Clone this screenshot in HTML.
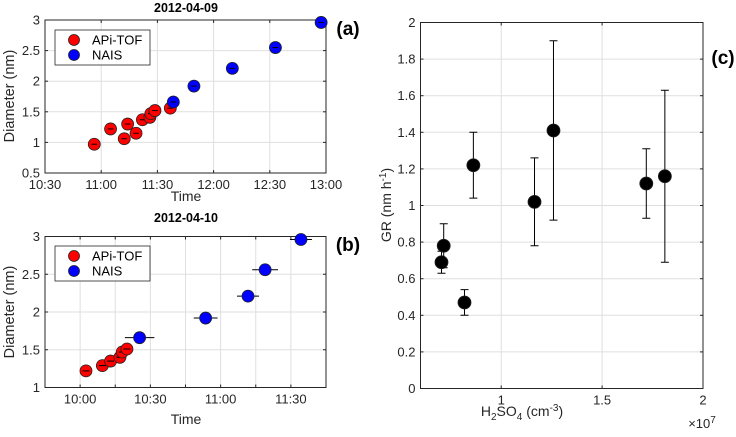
<!DOCTYPE html>
<html><head><meta charset="utf-8"><style>
body{margin:0;background:#fff;}
svg text{font-family:"Liberation Sans",Arial,sans-serif;}
</style></head><body>
<svg id="fig" width="736" height="432" viewBox="0 0 736 432" xmlns="http://www.w3.org/2000/svg"></svg>
<script>
// Panel (a) data: minutes after midnight, diameter (nm)
const aApiT = [656.3, 665, 672.3, 674.1, 678.6, 682, 686, 686.5, 688.7, 696.9];
const aApiD = [0.97, 1.22, 1.06, 1.30, 1.15, 1.37, 1.41, 1.47, 1.52, 1.56];
const aNaisT = [698.5, 709.5, 730, 753, 777.4];
const aNaisD = [1.66, 1.92, 2.21, 2.55, 2.96];
const aXTicks = [630, 660, 690, 720, 750, 780];
const aXLabels = ["10:30","11:00","11:30","12:00","12:30","13:00"];
const aYTicks = [0.5, 1, 1.5, 2, 2.5, 3];
// Panel (b) data
const bApiT = [602.5, 609.5, 613, 617, 618, 620];
const bApiD = [1.22, 1.29, 1.35, 1.40, 1.47, 1.51];
const bNaisT = [625.4, 653.6, 671.7, 679, 694.3];
const bNaisD = [1.66, 1.92, 2.21, 2.56, 2.96];
const bNaisErr = [6.3, 5.1, 4.7, 5.5, 4.7];
const bXTicks = [600, 630, 660, 690];
const bXLabels = ["10:00","10:30","11:00","11:30"];
const bYTicks = [1, 1.5, 2, 2.5, 3];
// Panel (c) data: H2SO4 (x1e7), GR, lower, upper
const cX = [0.704, 0.715, 0.818, 0.862, 1.165, 1.259, 1.719, 1.811];
const cGR = [0.69, 0.78, 0.47, 1.22, 1.02, 1.41, 1.12, 1.16];
const cLo = [0.63, 0.66, 0.40, 1.04, 0.78, 0.92, 0.93, 0.69];
const cHi = [0.75, 0.90, 0.54, 1.40, 1.26, 1.90, 1.31, 1.63];
const cXTicks = [1, 1.5, 2];
const cYTicks = [0,0.2,0.4,0.6,0.8,1,1.2,1.4,1.6,1.8,2];

const svg = document.getElementById('fig');
const NS = 'http://www.w3.org/2000/svg';
function mk(tag, attrs, parent){
  const e = document.createElementNS(NS, tag);
  for (const k in attrs) e.setAttribute(k, attrs[k]);
  (parent||svg).appendChild(e);
  return e;
}
function txt(s, x, y, opts, parent){
  const t = mk('text', Object.assign({x:x, y:y, 'font-size':13, fill:'#262626', 'text-anchor':'middle'}, opts||{}), parent);
  t.textContent = s;
  return t;
}
function lin(d0,d1,r0,r1){ return v => r0 + (v-d0)/(d1-d0)*(r1-r0); }

function panel(name, box, xd, yd, xGrid, xTicks, xLabels, yTicks, yLabels){
  const g = mk('g', {});
  
  
  const X = lin(xd[0], xd[1], box.x0, box.x1);
  const Y = lin(yd[0], yd[1], box.y1, box.y0);
  mk('rect', {x:box.x0, y:box.y0, width:box.x1-box.x0, height:box.y1-box.y0, fill:'#fff'}, g);
  xGrid.forEach(v => { const l = mk('line', {x1:X(v), x2:X(v), y1:box.y0, y2:box.y1, stroke:'#dfdfdf', 'stroke-width':1}, g);
      });
  yTicks.forEach(v => { const l = mk('line', {x1:box.x0, x2:box.x1, y1:Y(v), y2:Y(v), stroke:'#dfdfdf', 'stroke-width':1}, g);
      });
  const fr = mk('rect', {x:box.x0, y:box.y0, width:box.x1-box.x0, height:box.y1-box.y0, fill:'none', stroke:'#262626', 'stroke-width':1}, g);
   
  xGrid.forEach(v => { mk('line', {x1:X(v), x2:X(v), y1:box.y1, y2:box.y1-3, stroke:'#262626'}, g); mk('line', {x1:X(v), x2:X(v), y1:box.y0, y2:box.y0+3, stroke:'#262626'}, g); });
  yTicks.forEach(v => { mk('line', {x1:box.x0, x2:box.x0+3, y1:Y(v), y2:Y(v), stroke:'#262626'}, g); mk('line', {x1:box.x1, x2:box.x1-3, y1:Y(v), y2:Y(v), stroke:'#262626'}, g); });
  xTicks.forEach((v,i) => { const t = txt(xLabels[i], X(v), box.y1+16, {}, g);
      });
  yTicks.forEach((v,i) => { const t = txt(yLabels[i], box.x0-5, Y(v)+4.5, {'text-anchor':'end'}, g);
      });
  return {g, X, Y};
}
function dot(p, x, y, r, fill, name){
  const c = mk('circle', {cx:p.X(x), cy:p.Y(y), r:r, fill:fill, stroke:'#222', 'stroke-width':0.8}, p.g);
  
  
  return c;
}
function hbar(p, x, y, e){
  const l = mk('line', {x1:p.X(x-e), x2:p.X(x+e), y1:p.Y(y), y2:p.Y(y), stroke:'#000', 'stroke-width':1}, p.g);
  
  
}
function legend(x, y){
  const g = mk('g', {});
  
  
  mk('rect', {x:x, y:y, width:95, height:35, fill:'#fff', stroke:'#262626', 'stroke-width':0.8}, g);
  mk('circle', {cx:x+19, cy:y+10, r:5.5, fill:'#f00', stroke:'#222', 'stroke-width':0.8}, g);
  const t1 = txt('APi-TOF', x+37, y+14.5, {'text-anchor':'start', 'font-size':13, fill:'#000'}, g);
   
  mk('circle', {cx:x+19, cy:y+25, r:5.5, fill:'#00f', stroke:'#222', 'stroke-width':0.8}, g);
  const t2 = txt('NAIS', x+37, y+29.5, {'text-anchor':'start', 'font-size':13, fill:'#000'}, g);
   
}
const fmt = v => (Math.round(v*10)/10).toString();

// Panel a
const pa = panel('panel-a', {x0:45, x1:326, y0:20, y1:173}, [630, 780], [0.5, 3], aXTicks, aXTicks, aXLabels, aYTicks, aYTicks.map(fmt));
aApiT.forEach((t,i) => { dot(pa, t, aApiD[i], 6, '#f00', 'apitof-point-a'); hbar(pa, t, aApiD[i], 1.5); });
aNaisT.forEach((t,i) => { dot(pa, t, aNaisD[i], 6, '#00f', 'nais-point-a'); hbar(pa, t, aNaisD[i], 1.5); });
legend(55, 30);
txt('2012-04-09', 186, 12, {'font-weight':'bold', 'font-size':12.5, fill:'#000'});
txt('Time', 186, 201, {'font-size':14});
txt('Diameter (nm)', 0, 0, {'font-size':14.5, transform:'translate(14,96) rotate(-90)'});
txt('(a)', 348, 35, {'font-weight':'bold', 'font-size':19, fill:'#000'});

// Panel b
const bGrid = [600, 615, 630, 645, 660, 675, 690];
const pb = panel('panel-b', {x0:45, x1:326, y0:236.5, y1:387.5}, [585, 705], [1, 3], bGrid, bXTicks, bXLabels, bYTicks, bYTicks.map(fmt));
bApiT.forEach((t,i) => { dot(pb, t, bApiD[i], 6, '#f00', 'apitof-point-b'); hbar(pb, t, bApiD[i], 1.5); });
bNaisT.forEach((t,i) => { hbar(pb, t, bNaisD[i], bNaisErr[i]); dot(pb, t, bNaisD[i], 6, '#00f', 'nais-point-b'); });
legend(55, 246);
txt('2012-04-10', 186, 222, {'font-weight':'bold', 'font-size':12.5, fill:'#000'});
txt('Time', 186, 424, {'font-size':14});
txt('Diameter (nm)', 0, 0, {'font-size':14.5, transform:'translate(14,312) rotate(-90)'});
txt('(b)', 348, 251, {'font-weight':'bold', 'font-size':19, fill:'#000'});

// Panel c
const pc = panel('panel-c', {x0:420.5, x1:703, y0:22.5, y1:388.5}, [0.6, 2], [0, 2], cXTicks, cXTicks, cXTicks.map(fmt), cYTicks, cYTicks.map(fmt));
cX.forEach((x,i) => {
  const X = pc.X(x);
  const e = mk('path', {d:`M${X},${pc.Y(cLo[i])}V${pc.Y(cHi[i])}M${X-4},${pc.Y(cLo[i])}H${X+4}M${X-4},${pc.Y(cHi[i])}H${X+4}`, stroke:'#000', 'stroke-width':1, fill:'none'}, pc.g);
  
  
  dot(pc, x, cGR[i], 6.5, '#000', 'gr-point');
});
const yl = txt('', 0, 0, {'font-size':14, transform:'translate(391,205) rotate(-90)'});

yl.innerHTML = 'GR (nm h<tspan dy="-5" font-size="10">-1</tspan><tspan dy="5">)</tspan>';
const xl = txt('', 522, 416, {'font-size':14});

xl.innerHTML = 'H<tspan dy="4" font-size="10">2</tspan><tspan dy="-4">SO</tspan><tspan dy="4" font-size="10">4</tspan><tspan dy="-4"> (cm</tspan><tspan dy="-5" font-size="10">-3</tspan><tspan dy="5">)</tspan>';
const sc = txt('', 702, 428, {'font-size':13});

sc.innerHTML = '×10<tspan dy="-5" font-size="10">7</tspan>';
txt('(c)', 723, 64, {'font-weight':'bold', 'font-size':19, fill:'#000'});
</script>
</body></html>
